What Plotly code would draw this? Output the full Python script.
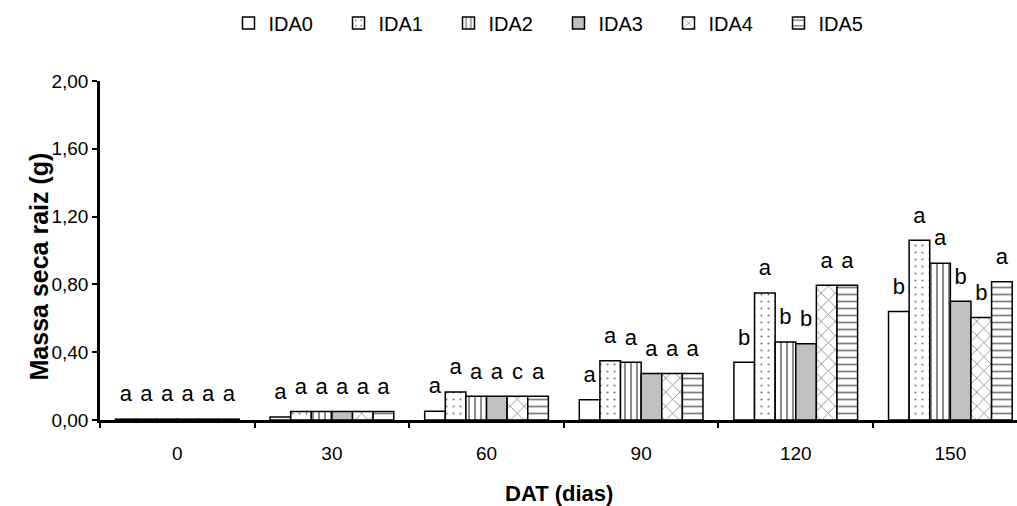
import plotly.graph_objects as go

# ---- data ----
categories = ["0", "30", "60", "90", "120", "150"]
series_names = ["IDA0", "IDA1", "IDA2", "IDA3", "IDA4", "IDA5"]
ida0 = [0.005, 0.018, 0.052, 0.12, 0.34, 0.64]
ida1 = [0.005, 0.05, 0.165, 0.35, 0.75, 1.06]
ida2 = [0.005, 0.05, 0.14, 0.34, 0.46, 0.925]
ida3 = [0.005, 0.05, 0.14, 0.275, 0.45, 0.70]
ida4 = [0.005, 0.05, 0.14, 0.275, 0.795, 0.605]
ida5 = [0.005, 0.05, 0.14, 0.275, 0.795, 0.815]
letters0 = ["a", "a", "a", "a", "b", "b"]
letters1 = ["a", "a", "a", "a", "a", "a"]
letters2 = ["a", "a", "a", "a", "b", "a"]
letters3 = ["a", "a", "a", "a", "b", "b"]
letters4 = ["a", "a", "c", "a", "a", "b"]
letters5 = ["a", "a", "a", "a", "a", "a"]
y_ticks = [0, 0.4, 0.8, 1.2, 1.6, 2.0]

values = [ida0, ida1, ida2, ida3, ida4, ida5]
letters = [letters0, letters1, letters2, letters3, letters4, letters5]

# ---- styles ----
FONT = "Liberation Sans, Arial, sans-serif"
styles = [
    dict(color="white", pattern=dict(shape="")),
    dict(color="white", pattern=dict(shape=".", fgcolor="black", bgcolor="white", size=7, solidity=0.08)),
    dict(color="white", pattern=dict(shape="|", fgcolor="black", bgcolor="white", size=6, solidity=0.3)),
    dict(color="#C0C0C0", pattern=dict(shape="")),
    dict(color="white", pattern=dict(shape="x", fgcolor="black", bgcolor="white", size=10, solidity=0.15)),
    dict(color="white", pattern=dict(shape="-", fgcolor="black", bgcolor="white", size=7, solidity=0.25)),
]

fig = go.Figure()
for name, vals, st in zip(series_names, values, styles):
    fig.add_trace(go.Bar(
        x=categories, y=vals, name=name,
        marker=dict(color=st["color"], pattern=st["pattern"],
                    line=dict(color="black", width=1.5)),
    ))

for name, vals, lets in zip(series_names, values, letters):
    fig.add_trace(go.Scatter(
        x=categories, y=vals, text=lets, mode="markers+text",
        orientation="v",
        textposition="top center",
        textfont=dict(family=FONT, size=22, color="black"),
        marker=dict(size=18, color="rgba(0,0,0,0)"),
        showlegend=False, hoverinfo="skip",
    ))

fig.update_layout(
    width=1017, height=506,
    margin=dict(l=100, r=0, t=81, b=86),
    paper_bgcolor="white", plot_bgcolor="white",
    barmode="group", bargap=0.2, bargroupgap=0,
    scattermode="group", scattergap=0.2,
    separators=",.",
    font=dict(family=FONT, size=19, color="black"),
    legend=dict(orientation="h", x=0.5, xanchor="center", y=1.171, yanchor="middle",
                font=dict(size=20), entrywidth=65, itemwidth=30),
    xaxis=dict(type="category", categoryorder="array", categoryarray=categories,
               range=[-0.5, 5.431], tickson="boundaries",
               ticks="outside", ticklen=5, tickwidth=2, tickcolor="black",
               showline=True, linecolor="black", linewidth=2.5,
               showgrid=False, zeroline=False, ticklabelstandoff=14,
               tickfont=dict(size=19)),
    yaxis=dict(range=[0, 2], tickvals=y_ticks, tickformat=".2f",
               ticks="outside", ticklen=5, tickwidth=2, tickcolor="black",
               showline=True, linecolor="black", linewidth=2.5,
               showgrid=False, zeroline=False, tickfont=dict(size=19)),
    annotations=[
        dict(text="<b>DAT (dias)</b>", xref="paper", yref="paper", x=0.5, y=0,
             xanchor="center", yanchor="middle", yshift=-73, showarrow=False,
             font=dict(size=22, family=FONT)),
        dict(text="<b>Massa seca raiz (g)</b>", xref="paper", yref="paper", x=0, y=0.5,
             xanchor="center", yanchor="middle", xshift=-62, yshift=-16, textangle=-90,
             showarrow=False, font=dict(size=25, family=FONT)),
    ],
)

fig.write_html("out.html", config={"displayModeBar": False},
               post_script="document.body.style.margin='0';document.body.style.overflow='hidden';")
